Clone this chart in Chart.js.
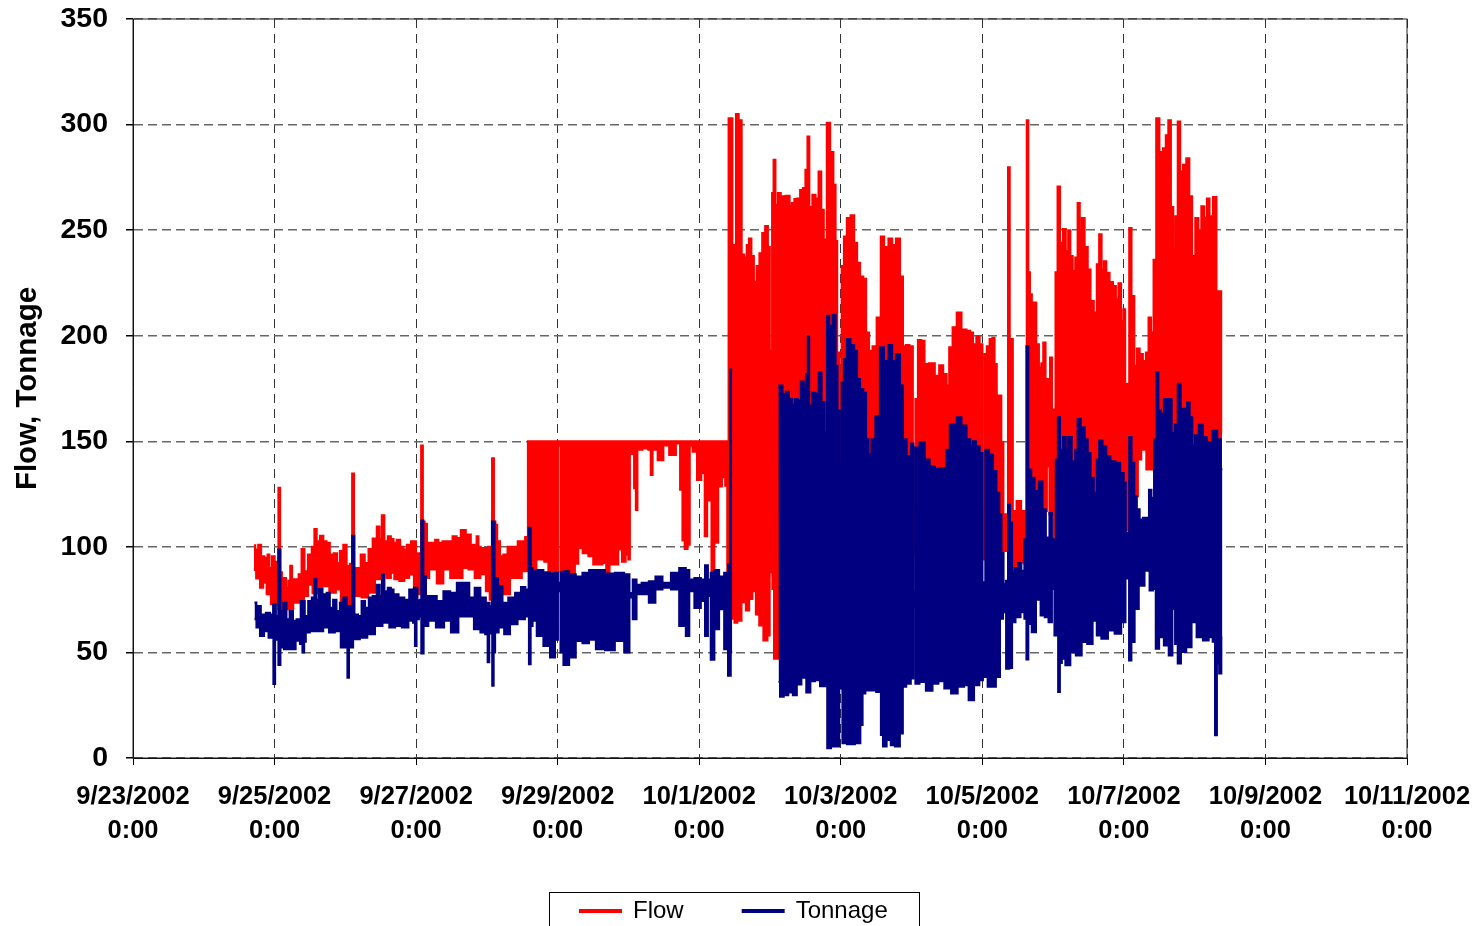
<!DOCTYPE html>
<html>
<head>
<meta charset="utf-8">
<title>Flow, Tonnage</title>
<script src="https://cdn.jsdelivr.net/npm/chart.js@4/dist/chart.umd.js"></script>
<style>
    html, body { margin: 0; padding: 0; background: #fff; overflow: hidden; }
    canvas { display: block; }
</style>
</head>
<body>
<canvas id="flowChart" width="1479" height="926"></canvas>
<script>
// x = hours since 9/23/2002 0:00, y = value
const xTickLabels = [
    ["9/23/2002", "0:00"], ["9/25/2002", "0:00"], ["9/27/2002", "0:00"], ["9/29/2002", "0:00"],
    ["10/1/2002", "0:00"], ["10/3/2002", "0:00"], ["10/5/2002", "0:00"], ["10/7/2002", "0:00"],
    ["10/9/2002", "0:00"], ["10/11/2002", "0:00"]
];

// upper and lower edge of the dense flow trace
const flowHigh = [
    [41,100.8],[41.9,98.7],[43,101],[43.9,95.6],[45.3,94.8],[45.9,96.4],[46.6,90],[47.6,95.6],[48.5,93],[49,91],
    [49.6,128],[50.2,88],[50.8,85.3],[51.5,85.3],[52.3,80.6],[53,84],[53.6,91],[54.3,84.6],[55.7,84.6],[56.6,87],
    [57.7,99],[58.6,88.5],[60,96.4],[61.2,100],[61.8,108.5],[62.8,102.6],[64,105.3],[65.1,102.6],[66.2,101.9],[67.3,96.4],
    [68.8,97],[69.6,92.4],[70.7,98],[71.9,101],[73,90.9],[74,92],[74.6,134.8],[75.3,90],[76.4,90],[78,96.4],
    [79.2,92.4],[80.5,99],[82,104],[83.3,109.7],[83.9,104],[84.8,115],[85.7,102.6],[87.1,105],[87.8,103.7],[88.9,102],
    [90,103.4],[91.2,100],[92.3,98.7],[93.4,101],[95.1,102.6],[96.8,97],[97.4,92],[98,148],[98.6,112],[99.2,111],
    [100.2,102],[101.9,102],[103,103.4],[104.1,101.9],[105.8,102.6],[107.5,102.6],[109.2,105],[110.3,104.2],[112,108],[113.7,105.8],
    [115.4,101],[116.2,99],[116.8,105],[117.5,100],[118.3,99.5],[120,99.5],[120.9,100],[121.4,86],[122.1,142],[122.7,112],
    [123.1,110.5],[123.9,102.6],[125,95.6],[126.1,96.4],[127.9,100],[129.6,100],[131.3,102.6],[132.4,102.6],[133.5,104.7],[133.8,103],
    [134,150],[144,150],[144.5,149],[145.1,150],[201.7,150],
    [202.2,303],[203,303],[203.5,240.8],[204.2,243],[204.7,305],[206.1,302],[206.7,238.5],[207.8,237],[208.4,243],[209.3,246],
    [210.1,237.7],[211,225.4],[211.9,233],[212.9,239],[213.8,248.7],[214.9,252],[215.7,242],[216.2,192.9],[216.5,181],[216.9,267.6],
    [217.5,283.3],[218.2,262],[219.1,267.6],[220.2,266],[222.3,266.3],[223,261.6],[223.8,262.9],[224.7,264.7],[225.7,265],[226.7,269],
    [227.6,270],[228.4,278.6],[229,294.3],[229.7,261],[231,266.8],[231.9,265],[233,277.8],[233.8,259.7],[234.7,245.6],[235.8,300.9],
    [237,287],[238,271.5],[238.5,244.8],[239.1,192],[240,181.9],[240.6,233],[241.5,247],[242.6,255.8],[244,257],[245.1,244],
    [246,234.6],[247.1,228],[248.2,227],[249,201.5],[250.2,192.9],[251.3,195],[253,208.6],[254.1,247],[255.3,242],[257,246],
    [257.9,243],[259.5,246],[260.7,228],[261.5,195],[262.6,195.6],[264,195],[264.9,119],[265.7,170],[266.6,198],[268,197.6],
    [268.8,186.6],[271,187],[272.8,181],[273.9,186],[275.6,181.9],[276.2,176.4],[277.3,194.5],[278.5,204],[280.1,211],[281.8,203],
    [283.5,202.3],[284.3,201.5],[285.4,196],[286.5,199.7],[287.7,196],[288.4,119],[289.1,191.3],[289.9,195],[291,198.4],[291.8,199],
    [292.5,186.6],[293.3,171.7],[294.2,171.7],[294.7,149.6],[295.6,115.4],[296.4,115],[297,279.8],[297.6,160],[298.1,198.4],[298.6,117],
    [300.6,121.7],[301.7,117],[302.8,117],[303.3,302],[303.9,230],[304.4,219.6],[305.2,215.7],[305.9,215.7],[306.7,196],[307.7,185],
    [308.3,187],[309,196.8],[309.9,179.5],[310.6,179],[311.3,189.7],[312,165],[312.5,165],[313.1,230],[313.9,270.7],[314.8,244],
    [315.9,250.6],[316.7,240],[317.5,250],[318.2,237.7],[319.1,230.6],[319.9,237],[320.7,262.9],[321.4,249.5],[322.1,255.8],[323.3,242],
    [324.2,231.4],[325.2,216.5],[326.4,211],[327.2,233.8],[328,248],[328.9,231.4],[329.5,235.3],[330.6,229.8],[331.7,225.4],[332.9,223.5],
    [333.7,217.3],[334.6,224.8],[335.5,207],[336.1,212.5],[336.8,177.2],[337.5,177.2],[338.1,251],[339.1,218.8],[340,185.8],[340.8,194],
    [341.9,191.3],[343,188],[343.9,192],[344.8,208.6],[345.6,201.5],[346.5,236],[347.4,303],[348.7,287],[349.8,288.8],[350.6,295],
    [351.5,302],[352.4,261],[353.1,240.8],[353.8,256.6],[354.7,301.4],[355.5,277.8],[356.6,281],[357.7,284],[358.7,266],[359.6,237.7],
    [360.8,255.8],[361.7,249.5],[362.8,261.3],[363.7,255.8],[364.6,265],[365.5,256.6],[366.9,265.7],[367.9,221],[368.7,221],[369.3,154]
];
const flowLow = [
    [41,89],[42.5,85],[43.6,80.6],[44.7,83],[45.9,77.5],[47.6,72.8],[51,70.4],[53.2,70.4],[55.5,73.5],[57.2,73.5],
    [58.8,76.7],[60,82],[61.7,78],[63.4,80.6],[65.1,81.4],[68,78.3],[69.6,79.8],[71.3,74.3],[73,69.6],[74.6,76.7],
    [76.4,76.7],[78.6,76],[80.9,78.3],[83.2,84.6],[84.8,87.4],[87.1,85.3],[87.8,87.7],[89.4,84.6],[91.2,83.8],[92.8,85.3],
    [94.5,86.9],[96,80.6],[97.4,77.5],[99,85.3],[101.9,89.3],[104.1,82.7],[106.4,89.3],[108.7,85.3],[110.9,85.3],[112.6,90],
    [114.9,89.3],[116.8,85.3],[118.8,87],[120.5,79],[121.4,75],[123.1,84.6],[124.5,78.3],[126.7,77.5],[129,85.3],[130.7,85.3],
    [133,88.5],[135,88.5],
    [138.6,94],[140.3,93],[141.4,88],[143.7,87.4],[144.5,148],[145.4,88.5],[147,87],[149.3,86.4],[150.4,92],[151.6,99.5],
    [153.3,97],[155.5,95.5],[156.6,91.6],[158.4,91.6],[160,92.4],[160.9,87.7],[162.3,91.6],[164,91.6],[165.1,98.7],[166.5,93],
    [167.6,96.3],[168.3,94],[168.7,145],[169.6,144],[170.2,127.8],[170.8,117.5],[171.3,146],[174.2,146.6],[175.2,146],[175.9,134],
    [176.5,146],[179.3,141],[180.4,148],[183.2,143.5],[185,149],[186,127],[186.6,103],[187.5,99],[188.6,101],[189,148],
    [190.5,145],[192,131.7],[193.4,135],[194.3,105],[195.1,122],[195.9,140],[196.4,87.7],[197.9,102],[199,128.6],[200.4,133],
    [201.2,129],[201.8,87],[202.4,88],[202.9,80],[203.5,66],[204.4,64],[205.5,65],[207.2,73.8],[208.4,69.8],[209.5,75.3],
    [210.6,79],[211.8,68],[212.9,62.8],[214.6,55.7],[215.7,58],[216.1,88],[216.6,114],[217,80],[217.7,47],[218.5,47],
    [219,100],[264.3,100],[264.9,96.5],[265.4,100],[288,100],[288.4,94],[288.8,100],[294.2,100],[294.7,97.3],[295.6,98],
    [296.5,100],[298,100],[298.5,88.7],[300.6,92.3],[301.7,92.6],[302.8,92],[303.3,100],[305.2,132],[306.9,125.6],[308,117],
    [309.5,117],[310.3,138],[311.2,115.4],[312,140],[312.5,97],[313.1,100],[336.4,100],[336.9,141],[337.5,108],[338.1,100],
    [339.1,140],[340.2,124],[341.3,141.4],[342.5,146],[344.7,136.6],[345.8,136.6],[346.7,100],[369.3,100]
];

// upper and lower edge of the dense tonnage trace, no data around 210 h
const tonnageHigh = [
    [41.2,73.6],[42.5,72],[44.2,68],[45.9,68.8],[47,68],[48,72.8],[48.9,67.3],[49.6,98.7],[50.4,69.6],[51.5,73.5],
    [52.6,65.7],[53.6,69.6],[54.9,65],[56,65.7],[57.7,74.3],[58.8,67.3],[60,74.3],[61.2,76],[61.8,84.9],[62.6,75],
    [63.4,80],[65.1,77.5],[66.2,78.3],[67.3,71.2],[68.4,75],[69.6,69.6],[70.7,73.5],[71.9,76],[73,72],[73.5,69.6],
    [74,72],[74.6,105.3],[75.6,68],[77,67.3],[78,74.3],[79.4,71.2],[80.5,76],[82,76.7],[83.3,82],[84,76.7],
    [84.8,86.9],[85.7,79],[87.1,80.6],[87.8,79.8],[88.9,77.5],[91.2,76],[92.8,75],[94.5,79.8],[96,80.6],[96.9,74.3],
    [97.5,75],[98,112.6],[98.9,86],[99.8,76.7],[101.9,76.7],[104.1,74.3],[106.4,79],[108.7,78.3],[110.9,83],[113.2,83],
    [114.9,76],[116.8,80.6],[118.8,76],[120.5,73.5],[121.3,72],[122.1,112],[123.1,85.3],[124.5,81.4],[126.1,73.5],[128.4,76],
    [130.7,78.3],[132.4,81],[133.7,79.8],[134.6,109],[135.2,90],[135.8,88.5],[138,89],
    [140.3,88],[142.5,87.4],[143.7,87.7],[144.5,83],[145.4,88],[146.5,88.5],[149.3,87],[151,86],[153.8,87.7],[155.5,89],
    [158.4,89],[161.7,87.4],[165.1,87.7],[168,87],[168.7,78.2],[170.2,84.5],[171.3,82],[173.6,83],[176.2,83.7],[178.1,86],
    [181,83],[183.8,87.7],[186.6,90],[188.3,89],[189,84.5],[191.7,85.3],[193.4,84.5],[194.5,91.3],[195.4,84.5],[196.4,87.7],
    [197.9,89],[199.6,86],[201.3,87.7],[202.2,91.6],[202.7,184],[203.2,184],[210,null],[218.7,176.4],[219.7,176.4],[220.8,172.4],
    [221.9,173.5],[223,170],[223.8,167.3],[224.9,170],[225.9,169.3],[227,178.3],[227.9,174.8],[228.6,181.9],[229,199.7],[229.6,167],
    [231,173],[232,172.4],[233,182.6],[234,168.5],[235,154.4],[235.6,209.4],[236.6,204.7],[237.9,209.9],[238.6,185.8],[239.2,164.6],
    [240,139],[240.6,178],[241.5,189],[242.6,198.4],[244,195.6],[245.1,192.9],[246,179.5],[247.1,174.8],[248.2,173],[249,151],
    [249.8,143.7],[251,151],[252.4,162],[254.1,194.5],[255.3,188],[257,195.6],[257.9,188],[259.5,191.3],[260.7,176.4],[261.5,151],
    [263.2,143],[264.3,149],[264.9,79],[265.7,147],[267.7,149.6],[269.3,141.4],[271,138],[272.8,137],[275,137.4],[276.6,146],
    [277.3,157.8],[278.5,158],[280.1,161.4],[281.8,157.5],[283.5,151],[284.3,147.7],[285.2,150],[286.5,147.7],[287.7,144.5],[288.4,83.2],
    [289.6,146],[291,143.7],[292.3,135.9],[293.3,125.6],[294.2,115.4],[294.8,97],[295.6,82.4],[296.4,84],[297,120],[297.8,111.5],
    [298.4,88],[299.5,90],[300.7,92.3],[301.8,88.7],[302.7,103.6],[303.2,195],[304,136.6],[305.2,132.7],[306.3,126.4],[308,131],
    [308.8,117.8],[310.3,104.4],[311.2,116],[312,103.6],[312.5,97.3],[313.3,141.4],[313.9,161.4],[314.8,146],[315.9,152],[316.7,146],
    [317.5,152],[319.1,140.6],[319.9,146],[320.7,160.7],[322.1,156.7],[323.3,151],[324.2,144.5],[325.2,132.7],[326.4,125.6],[327.2,141.4],
    [328,150.4],[329.5,147.7],[330.6,143],[332.3,140.6],[334,139.8],[335.5,135],[336.4,130.4],[336.9,106],[337.5,106.8],[338.1,152],
    [339.1,139.8],[340,124],[340.8,117.8],[341.9,113],[343,113.8],[344.1,113.8],[344.9,127],[345.8,123.3],[346.7,150.8],[347.4,182.7],
    [348,164.6],[348.9,163],[350.2,170],[351.7,170],[352.7,154],[353.8,158],[354.7,177.2],[355.8,165.4],[357,165.4],[357.8,168.5],
    [358.8,161.4],[359.6,148],[360.5,152.8],[362.2,157.8],[363.4,152],[365,149.6],[366.9,155],[368.4,151],[369.4,136.7]
];
const tonnageLow = [
    [41.2,65.7],[42.5,61.8],[43.6,57.8],[45.3,60],[46.6,57],[47.3,57],[47.9,35],[48.5,56.3],[49,56],[49.6,44],
    [50.4,52.3],[52,51.5],[54.3,51.5],[56,55.5],[57.2,54],[57.7,50],[58.4,55],[58.8,59.4],[61.1,60],[63.4,60],
    [65.6,61.8],[67.3,59.4],[69.6,60],[71.3,52.3],[72.4,52.3],[73,38],[73.5,52.3],[75.8,56.3],[78,57],[80.9,58.6],
    [83.2,62.5],[86,64],[87.8,61.8],[90,62.5],[92.3,61.8],[94.5,65],[95.4,64],[95.8,53],[96.5,65.7],[97.4,67],
    [98.1,49.5],[99,62.5],[101.3,65],[104.1,61.8],[106.9,65],[108.7,59.4],[112,67],[114.4,67],[116.8,61],[118.8,59.4],
    [120,58.6],[120.5,45.3],[121.1,59.4],[121.6,59],[122,34.2],[122.6,50],[123,59.4],[125,61.8],[126.7,58.6],[129,63.3],
    [131.8,65.7],[134,67],[134.5,44.4],[135.2,62.5],[135.8,65],[138,57.8],[140.3,53],[142.5,47.6],
    [143.7,56],[144.5,79],[145.4,50],[146.5,44],[149.3,47.6],[151,55.4],[153.8,54.3],[155.5,56],[158.4,51.5],[161.7,51],
    [165.1,55.4],[168,50],[168.7,76],[170.2,65.7],[171.3,77.5],[173.6,77.5],[176.2,73.5],[178.1,79.8],[181,80.6],[183.8,79.8],
    [186.6,62.5],[188.3,57.8],[189,79],[191.7,71],[193.4,74.3],[194.5,57.8],[195.4,76.7],[196.4,46.5],[197.9,61],[199.6,70.4],
    [201.3,51.5],[202.2,39],[203.2,50],[210,null],[218.9,36],[219.9,29],[221.4,29.7],[223,31],[224.5,29.7],[225.7,34.8],
    [227.6,38],[229,31],[230.4,36.3],[232.1,36.8],[233.8,34],[235.1,34],[235.7,4.6],[237.7,5.4],[239.2,5.4],[239.8,32.9],
    [240.3,33.7],[240.8,7],[243.4,6.5],[246.2,7],[247.1,15.6],[247.7,30.5],[249,32],[250.7,32],[253.3,31.3],[253.9,10.9],
    [254.7,5.4],[256.4,8.5],[257.5,6],[259.2,5.4],[260.9,11.6],[261.2,33.7],[263.2,35.2],[264.3,37.6],[264.9,71.4],[265.7,35.2],
    [267.7,36],[270,31.8],[272.2,35.2],[274,36.3],[276.2,32.9],[278.6,30.5],[280.7,33.7],[282.9,34.4],[283.8,27.4],[284.4,27.4],
    [286,34.4],[288,36.8],[288.4,66.7],[289.1,38.4],[290.5,33.7],[291.6,33.7],[293.6,38.4],[294.4,66],[295.6,69],[296.5,42.3],
    [297.8,42.6],[298.4,64.3],[300.1,66.7],[301.8,69],[302.7,66],[303.2,46.7],[304,63.5],[305.5,59.6],[306.9,75],[308.6,67.5],
    [309.7,66.7],[311.2,64.3],[312,80],[312.9,58],[313.4,58],[314,31.3],[314.6,45],[315.3,47],[317,43.9],[318.7,50],
    [320.7,48.6],[322.7,54.9],[324.4,54],[326.4,65],[327.2,58],[329.5,56.5],[331.7,60.4],[334,58.8],[336.2,64.3],[336.9,85.5],
    [337.5,85],[338,46.2],[339.1,54.9],[340.2,70.6],[341.9,81.6],[344.1,88.7],[345.3,79.3],[346.4,80],[347.2,51.7],[348.7,57.2],
    [350.4,53.3],[352,48.6],[352.9,70.6],[353.8,54],[354.7,44.7],[356,50.2],[358.3,52.5],[359.6,64.3],[361.7,57.2],[363.9,55.7],
    [365.6,57.2],[366.6,55],[367.2,10.8],[367.9,44.7],[368.7,40],[369.4,57]
];

const legendNames = ["Flow", "Tonnage"];

const fontName = "'Liberation Sans', Arial, sans-serif";

// outer frame of the plot area
const plotFrame = {
    id: "plotFrame",
    beforeDatasetsDraw(chart) {
        const { ctx, chartArea: a } = chart;
        ctx.save();
        ctx.strokeStyle = "#222";
        ctx.lineWidth = 1;
        ctx.strokeRect(a.left, a.top, a.right - a.left, a.bottom - a.top);
        ctx.restore();
    }
};

// legend sits low on the page in a box that runs off the bottom edge
const legendBox = {
    id: "legendBox",
    afterLayout(chart) {
        const legend = chart.legend;
        const pad = legend.options.labels.padding;
        const w = legend.width;
        const h = legend.height;
        legend.left = 580 - pad;
        legend.right = legend.left + w;
        legend.top = 899 - pad;
        legend.bottom = legend.top + h;
        // x tick labels get clipped to the scale box, give them room
        chart.scales.x.bottom = 860;
    },
    afterDraw(chart) {
        const { ctx } = chart;
        ctx.save();
        ctx.strokeStyle = "#000";
        ctx.lineWidth = 1;
        ctx.strokeRect(549.5, 892.5, 370, 60);
        ctx.restore();
    }
};

function traceSet(label, points, color, order, fill) {
    return {
        label: label,
        data: points,
        borderColor: color,
        backgroundColor: color,
        borderWidth: 2,
        pointRadius: 0,
        stepped: "middle",
        spanGaps: false,
        fill: fill,
        order: order
    };
}

new Chart(document.getElementById("flowChart"), {
    type: "line",
    data: {
        datasets: [
            traceSet("Flow", flowHigh, "#ff0000", 2, "+1"),
            traceSet("Flow low", flowLow, "#ff0000", 2, false),
            traceSet("Tonnage", tonnageHigh, "#000080", 1, "+1"),
            traceSet("Tonnage low", tonnageLow, "#000080", 1, false)
        ]
    },
    options: {
        responsive: false,
        animation: false,
        layout: { padding: { left: 0, top: 19, right: 72, bottom: 0 } },
        scales: {
            x: {
                type: "linear",
                min: 0,
                max: 432,
                afterFit(scale) {
                    scale.height = 75;
                    scale.paddingLeft = 0;
                    scale.paddingRight = 0;
                },
                afterBuildTicks(scale) {
                    scale.ticks = xTickLabels.map((_, i) => ({ value: i * 48 }));
                },
                ticks: {
                    autoSkip: false,
                    maxRotation: 0,
                    padding: 15,
                    color: "#000",
                    font: { family: fontName, size: 25.5, weight: "bold", lineHeight: 1.33 },
                    callback: (value, index) => xTickLabels[index]
                },
                grid: { color: "#333", lineWidth: 1, tickColor: "#000", tickLength: 7, tickBorderDash: [] },
                border: { display: true, color: "#000", width: 1, dash: [9, 6] }
            },
            y: {
                min: 0,
                max: 350,
                afterFit(scale) {
                    scale.width = 133;
                    scale.paddingTop = 0;
                },
                title: {
                    display: true,
                    text: "Flow, Tonnage",
                    color: "#000",
                    padding: { top: 10, bottom: 0 },
                    font: { family: fontName, size: 29.5, weight: "bold" }
                },
                ticks: {
                    stepSize: 50,
                    padding: 18,
                    color: "#000",
                    font: { family: fontName, size: 28.5, weight: "bold" }
                },
                grid: { color: "#666", lineWidth: 1.5, tickColor: "#000", tickLength: 7, tickBorderDash: [] },
                border: { display: true, color: "#000", width: 1, dash: [9, 5] }
            }
        },
        plugins: {
            tooltip: { enabled: false },
            legend: {
                display: true,
                position: "bottom",
                align: "start",
                labels: {
                    boxWidth: 41,
                    boxHeight: 2,
                    padding: 59,
                    color: "#000",
                    font: { family: fontName, size: 24 },
                    filter: item => legendNames.includes(item.text),
                    sort: (a, b) => a.datasetIndex - b.datasetIndex
                }
            }
        }
    },
    plugins: [plotFrame, legendBox]
});
</script>
</body>
</html>
